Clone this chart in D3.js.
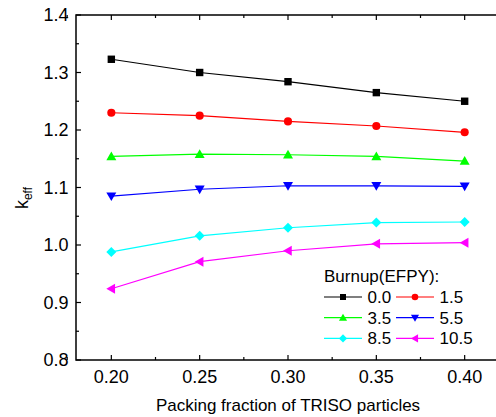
<!DOCTYPE html>
<html>
<head>
<meta charset="utf-8">
<script src="https://cdn.jsdelivr.net/npm/d3@7"></script>
<style>
  html, body { margin: 0; padding: 0; background: #fff; }
  svg { display: block; font-family: Arial, "Liberation Sans", sans-serif; }
</style>
</head>
<body>
<svg width="496" height="417"></svg>
<script>
'use strict';

var packing = [0.20, 0.25, 0.30, 0.35, 0.40];
var burnups = ["0.0", "1.5", "3.5", "5.5", "8.5", "10.5"];
var k00 = [1.323, 1.300, 1.284, 1.265, 1.250];
var k15 = [1.230, 1.225, 1.215, 1.207, 1.196];
var k35 = [1.154, 1.158, 1.157, 1.154, 1.146];
var k55 = [1.085, 1.097, 1.103, 1.103, 1.102];
var k85 = [0.988, 1.016, 1.030, 1.039, 1.040];
var k105 = [0.924, 0.971, 0.990, 1.002, 1.004];
var xTicks = [0.20, 0.25, 0.30, 0.35, 0.40];
var yTicks = [0.8, 0.9, 1.0, 1.1, 1.2, 1.3, 1.4];

var colors = ["#000000", "#ff0000", "#00ff00", "#0000ff", "#00ffff", "#ff00ff"];
var shapes = ["square", "circle", "up", "down", "diamond", "left"];
var series = [k00, k15, k35, k55, k85, k105];

var svg = d3.select("svg");
var plotL = 76, plotR = 500, plotT = 15, plotB = 360;

var x = d3.scaleLinear().domain([0.18, 0.42]).range([plotL, plotR]);
var y = d3.scaleLinear().domain([0.8, 1.4]).range([plotB, plotT]);

// frame
svg.append("rect")
  .attr("x", plotL).attr("y", plotT)
  .attr("width", plotR - plotL).attr("height", plotB - plotT)
  .attr("fill", "none").attr("stroke", "#000").attr("stroke-width", 1.5);

// ticks, all pointing inward
var minorX = d3.range(0.175, 0.43, 0.05);
var minorY = d3.range(0.85, 1.4, 0.1);
var ticks = svg.append("g").attr("stroke", "#000").attr("stroke-width", 1.2);
xTicks.forEach(function (v) {
  ticks.append("line").attr("x1", x(v)).attr("x2", x(v)).attr("y1", plotB).attr("y2", plotB - 5);
  ticks.append("line").attr("x1", x(v)).attr("x2", x(v)).attr("y1", plotT).attr("y2", plotT + 5);
});
minorX.forEach(function (v) {
  ticks.append("line").attr("x1", x(v)).attr("x2", x(v)).attr("y1", plotB).attr("y2", plotB - 3);
  ticks.append("line").attr("x1", x(v)).attr("x2", x(v)).attr("y1", plotT).attr("y2", plotT + 3);
});
yTicks.forEach(function (v) {
  ticks.append("line").attr("x1", plotL).attr("x2", plotL + 5).attr("y1", y(v)).attr("y2", y(v));
});
minorY.forEach(function (v) {
  ticks.append("line").attr("x1", plotL).attr("x2", plotL + 3).attr("y1", y(v)).attr("y2", y(v));
});

// tick labels
svg.append("g").selectAll("text").data(xTicks).enter().append("text")
  .attr("x", function (d) { return x(d); })
  .attr("y", 382.5)
  .attr("text-anchor", "middle")
  .attr("font-size", 18)
  .text(function (d) { return d3.format(".2f")(d); });

svg.append("g").selectAll("text").data(yTicks).enter().append("text")
  .attr("x", 68.5)
  .attr("y", function (d) { return y(d) + 6; })
  .attr("text-anchor", "end")
  .attr("font-size", 18)
  .text(function (d) { return d3.format(".1f")(d); });

// axis titles
svg.append("text")
  .attr("x", 288).attr("y", 411)
  .attr("text-anchor", "middle")
  .attr("font-size", 17)
  .text("Packing fraction of TRISO particles");

var yl = svg.append("text")
  .attr("transform", "translate(28,198) rotate(-90)")
  .attr("text-anchor", "middle")
  .attr("font-size", 18);
yl.append("tspan").text("k");
yl.append("tspan").attr("font-size", 12).attr("dy", 4).text("eff");

function marker(g, shape, cx, cy, s, color) {
  var p;
  if (shape === "square") {
    p = g.append("rect").attr("x", cx - s).attr("y", cy - s).attr("width", 2 * s).attr("height", 2 * s);
  } else if (shape === "circle") {
    p = g.append("circle").attr("cx", cx).attr("cy", cy).attr("r", s * 1.1);
  } else {
    var pts;
    var r = s * 1.35;
    if (shape === "up") pts = [[cx, cy - r], [cx + r, cy + r * 0.75], [cx - r, cy + r * 0.75]];
    if (shape === "down") pts = [[cx, cy + r], [cx + r, cy - r * 0.75], [cx - r, cy - r * 0.75]];
    if (shape === "left") pts = [[cx - r, cy], [cx + r * 0.75, cy - r], [cx + r * 0.75, cy + r]];
    if (shape === "diamond") pts = [[cx, cy - r], [cx + r, cy], [cx, cy + r], [cx - r, cy]];
    p = g.append("polygon").attr("points", pts.map(function (q) { return q.join(","); }).join(" "));
  }
  p.attr("fill", color);
}

var line = d3.line()
  .x(function (d, i) { return x(packing[i]); })
  .y(function (d) { return y(d); });

series.forEach(function (vals, si) {
  var g = svg.append("g");
  g.append("path").attr("d", line(vals))
    .attr("fill", "none").attr("stroke", colors[si]).attr("stroke-width", 1.2);
  vals.forEach(function (v, i) {
    marker(g, shapes[si], x(packing[i]), y(v), 3.7, colors[si]);
  });
});

// legend
var legend = svg.append("g");
legend.append("text").attr("x", 324).attr("y", 282).attr("font-size", 17).text("Burnup(EFPY):");
burnups.forEach(function (b, i) {
  var col = i % 2, row = Math.floor(i / 2);
  var x0 = col === 0 ? 324 : 396;
  var cy = 297 + row * 20.7;
  legend.append("line").attr("x1", x0).attr("x2", x0 + 38).attr("y1", cy).attr("y2", cy)
    .attr("stroke", colors[i]).attr("stroke-width", 1.2);
  marker(legend, shapes[i], x0 + 19, cy, 3, colors[i]);
  legend.append("text").attr("x", x0 + 43.5).attr("y", cy + 6).attr("font-size", 17).text(b);
});
</script>
</body>
</html>
